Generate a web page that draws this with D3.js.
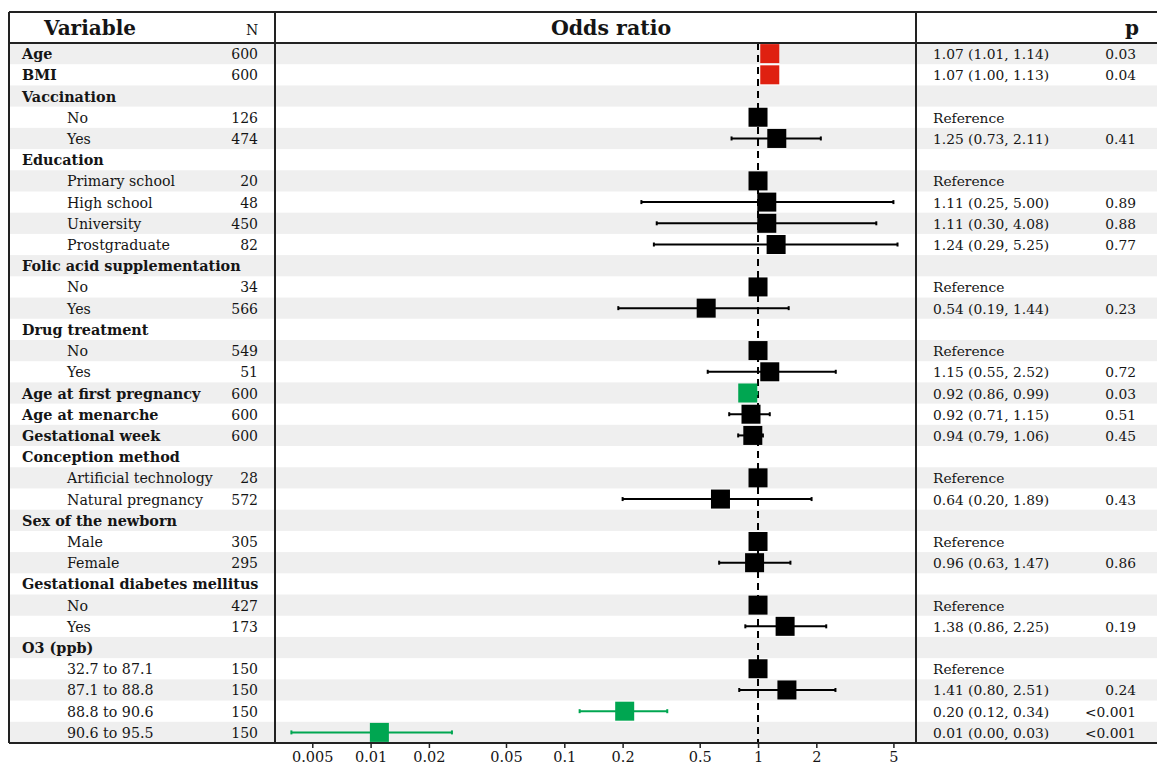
<!DOCTYPE html>
<html>
<head>
<meta charset="utf-8">
<script src="https://cdn.jsdelivr.net/npm/d3@7/dist/d3.min.js"></script>
<style>
  html, body { margin: 0; padding: 0; background: #fff; }
  svg { display: block; }
  text { font-family: "DejaVu Serif", "Liberation Serif", serif; fill: #151515; }
</style>
</head>
<body>
<svg id="chart" width="1157" height="765"></svg>
<script>
// ---------------- data ----------------
const labels = [
  "Age", "BMI", "Vaccination", "No", "Yes",
  "Education", "Primary school", "High school", "University", "Prostgraduate",
  "Folic acid supplementation", "No", "Yes",
  "Drug treatment", "No", "Yes",
  "Age at first pregnancy", "Age at menarche", "Gestational week",
  "Conception method", "Artificial technology", "Natural pregnancy",
  "Sex of the newborn", "Male", "Female",
  "Gestational diabetes mellitus", "No", "Yes",
  "O3 (ppb)", "32.7 to 87.1", "87.1 to 88.8", "88.8 to 90.6", "90.6 to 95.5"
];
// 0 = variable (bold), 1 = level (indented)
const levels = [0,0,0,1,1, 0,1,1,1,1, 0,1,1, 0,1,1, 0,0,0, 0,1,1, 0,1,1, 0,1,1, 0,1,1,1,1];
const nValues = ["600","600","","126","474", "","20","48","450","82", "","34","566",
  "","549","51", "600","600","600", "","28","572", "","305","295", "","427","173",
  "","150","150","150","150"];
// plotted odds ratio estimates
const estimates = [1.15, 1.15, null, 1, 1.25, null, 1, 1.11, 1.11, 1.24, null, 1, 0.54,
  null, 1, 1.15, 0.885, 0.92, 0.94, null, 1, 0.64, null, 1, 0.96, null, 1, 1.38,
  null, 1, 1.41, 0.205, 0.0111];
const lower = [null, null, null, null, 0.73, null, null, 0.25, 0.30, 0.29, null, null, 0.19,
  null, null, 0.55, 0.86, 0.71, 0.79, null, null, 0.20, null, null, 0.63, null, null, 0.86,
  null, null, 0.80, 0.12, 0.0039];
const upper = [null, null, null, null, 2.11, null, null, 5.00, 4.08, 5.25, null, null, 1.44,
  null, null, 2.52, 0.99, 1.15, 1.06, null, null, 1.89, null, null, 1.47, null, null, 2.25,
  null, null, 2.51, 0.34, 0.0263];
// significance: "up" = higher risk, "down" = lower risk, "" = not significant
const significance = ["up","up","","","", "","","","","", "","","", "","","",
  "down","","", "","","", "","","", "","","", "","","","down","down"];
const ciText = ["1.07 (1.01, 1.14)", "1.07 (1.00, 1.13)", "", "Reference", "1.25 (0.73, 2.11)",
  "", "Reference", "1.11 (0.25, 5.00)", "1.11 (0.30, 4.08)", "1.24 (0.29, 5.25)",
  "", "Reference", "0.54 (0.19, 1.44)", "", "Reference", "1.15 (0.55, 2.52)",
  "0.92 (0.86, 0.99)", "0.92 (0.71, 1.15)", "0.94 (0.79, 1.06)",
  "", "Reference", "0.64 (0.20, 1.89)", "", "Reference", "0.96 (0.63, 1.47)",
  "", "Reference", "1.38 (0.86, 2.25)", "", "Reference", "1.41 (0.80, 2.51)",
  "0.20 (0.12, 0.34)", "0.01 (0.00, 0.03)"];
const pText = ["0.03","0.04","","","0.41", "","","0.89","0.88","0.77", "","","0.23",
  "","","0.72", "0.03","0.51","0.45", "","","0.43", "","","0.86", "","","0.19",
  "","","0.24","<0.001","<0.001"];
const tickValues = [0.005, 0.01, 0.02, 0.05, 0.1, 0.2, 0.5, 1, 2, 5];
const tickLabels = ["0.005", "0.01", "0.02", "0.05", "0.1", "0.2", "0.5", "1", "2", "5"];

// ---------------- layout ----------------
const left = 9, colN = 275, colR = 916, right = 1157;
const headTop = 12, headBottom = 43, bodyBottom = 743;
const colors = { up: "#df2010", down: "#00a651", "": "#000000" };
const boxSize = 19;

const svg = d3.select("#chart");
const idx = d3.range(labels.length);

const y = d3.scaleBand().domain(idx).range([headBottom, bodyBottom]).padding(0);
const x = d3.scaleLog().domain([0.00321, 6.54]).range([colN, colR]);
const base = i => y(i) + y.bandwidth() / 2 + 5.5;

// stripes
svg.append("g").selectAll("rect").data(idx.filter(i => i % 2 === 0)).join("rect")
  .attr("x", left).attr("width", right - left)
  .attr("y", i => y(i)).attr("height", y.bandwidth())
  .attr("fill", "#efefef");

// left column text
const gl = svg.append("g");
gl.selectAll("text.lab").data(idx).join("text")
  .attr("class", "lab")
  .attr("x", i => levels[i] === 0 ? 22 : 67)
  .attr("y", base)
  .attr("font-size", i => levels[i] === 0 ? 14.4 : 14.2)
  .attr("font-weight", i => levels[i] === 0 ? "bold" : "normal")
  .text(i => labels[i]);
gl.selectAll("text.n").data(idx).join("text")
  .attr("class", "n")
  .attr("x", 258).attr("text-anchor", "end")
  .attr("y", base)
  .attr("font-size", 14)
  .text(i => nValues[i]);

// right column text
const gr = svg.append("g");
gr.selectAll("text.ci").data(idx).join("text")
  .attr("class", "ci")
  .attr("x", 933)
  .attr("y", base)
  .attr("font-size", 13.8)
  .text(i => ciText[i]);
gr.selectAll("text.p").data(idx).join("text")
  .attr("class", "p")
  .attr("x", 1136).attr("text-anchor", "end")
  .attr("y", base)
  .attr("font-size", 13.8)
  .text(i => pText[i]);

// reference dashed line
svg.append("line")
  .attr("x1", x(1)).attr("x2", x(1))
  .attr("y1", headBottom).attr("y2", bodyBottom)
  .attr("stroke", "#000").attr("stroke-width", 2)
  .attr("stroke-dasharray", "7,5");

// whiskers
const withCI = idx.filter(i => lower[i] != null && upper[i] != null);
const gw = svg.append("g");
gw.selectAll("line.w").data(withCI).join("line")
  .attr("class", "w")
  .attr("x1", i => x(lower[i])).attr("x2", i => x(upper[i]))
  .attr("y1", i => y(i) + y.bandwidth() / 2).attr("y2", i => y(i) + y.bandwidth() / 2)
  .attr("stroke", i => colors[significance[i]]).attr("stroke-width", 2);
["lo", "hi"].forEach(k => {
  gw.selectAll("line.c" + k).data(withCI).join("line")
    .attr("class", "c" + k)
    .attr("x1", i => x(k === "lo" ? lower[i] : upper[i]))
    .attr("x2", i => x(k === "lo" ? lower[i] : upper[i]))
    .attr("y1", i => y(i) + y.bandwidth() / 2 - 2)
    .attr("y2", i => y(i) + y.bandwidth() / 2 + 2)
    .attr("stroke", i => colors[significance[i]]).attr("stroke-width", 2);
});

// boxes
svg.append("g").selectAll("rect").data(idx.filter(i => estimates[i] != null)).join("rect")
  .attr("x", i => x(estimates[i]) - boxSize / 2)
  .attr("y", i => y(i) + y.bandwidth() / 2 - boxSize / 2)
  .attr("width", boxSize).attr("height", boxSize)
  .attr("fill", i => colors[significance[i]]);

// axis
const axis = d3.axisBottom(x).tickValues(tickValues)
  .tickFormat((d, i) => tickLabels[i]).tickSize(5).tickPadding(4);
const ga = svg.append("g").attr("transform", `translate(0,${bodyBottom})`).call(axis);
ga.select(".domain").remove();
ga.selectAll(".tick line").attr("stroke", "#222").attr("stroke-width", 1.5);
ga.selectAll(".tick text").attr("font-size", 14.5).attr("fill", "#2a2a2a")
  .attr("font-family", "DejaVu Serif, serif");

// header text
svg.append("text").attr("x", 90).attr("y", 35).attr("text-anchor", "middle")
  .attr("font-size", 20).attr("font-weight", "bold").text("Variable");
svg.append("text").attr("x", 252).attr("y", 35).attr("text-anchor", "middle")
  .attr("font-size", 14).text("N");
svg.append("text").attr("x", 611).attr("y", 35).attr("text-anchor", "middle")
  .attr("font-size", 20.5).attr("font-weight", "bold").text("Odds ratio");
svg.append("text").attr("x", 1132).attr("y", 35).attr("text-anchor", "middle")
  .attr("font-size", 20).attr("font-weight", "bold").text("p");

// table lines
const lines = svg.append("g").attr("stroke", "#222").attr("stroke-width", 2);
lines.append("line").attr("x1", left).attr("x2", right).attr("y1", headTop).attr("y2", headTop);
lines.append("line").attr("x1", left).attr("x2", right).attr("y1", headBottom).attr("y2", headBottom);
lines.append("line").attr("x1", left).attr("x2", right).attr("y1", bodyBottom).attr("y2", bodyBottom);
lines.append("line").attr("x1", left).attr("x2", left).attr("y1", headTop).attr("y2", bodyBottom);
lines.append("line").attr("x1", colN).attr("x2", colN).attr("y1", headTop).attr("y2", bodyBottom);
lines.append("line").attr("x1", colR).attr("x2", colR).attr("y1", headTop).attr("y2", bodyBottom);
</script>
</body>
</html>
